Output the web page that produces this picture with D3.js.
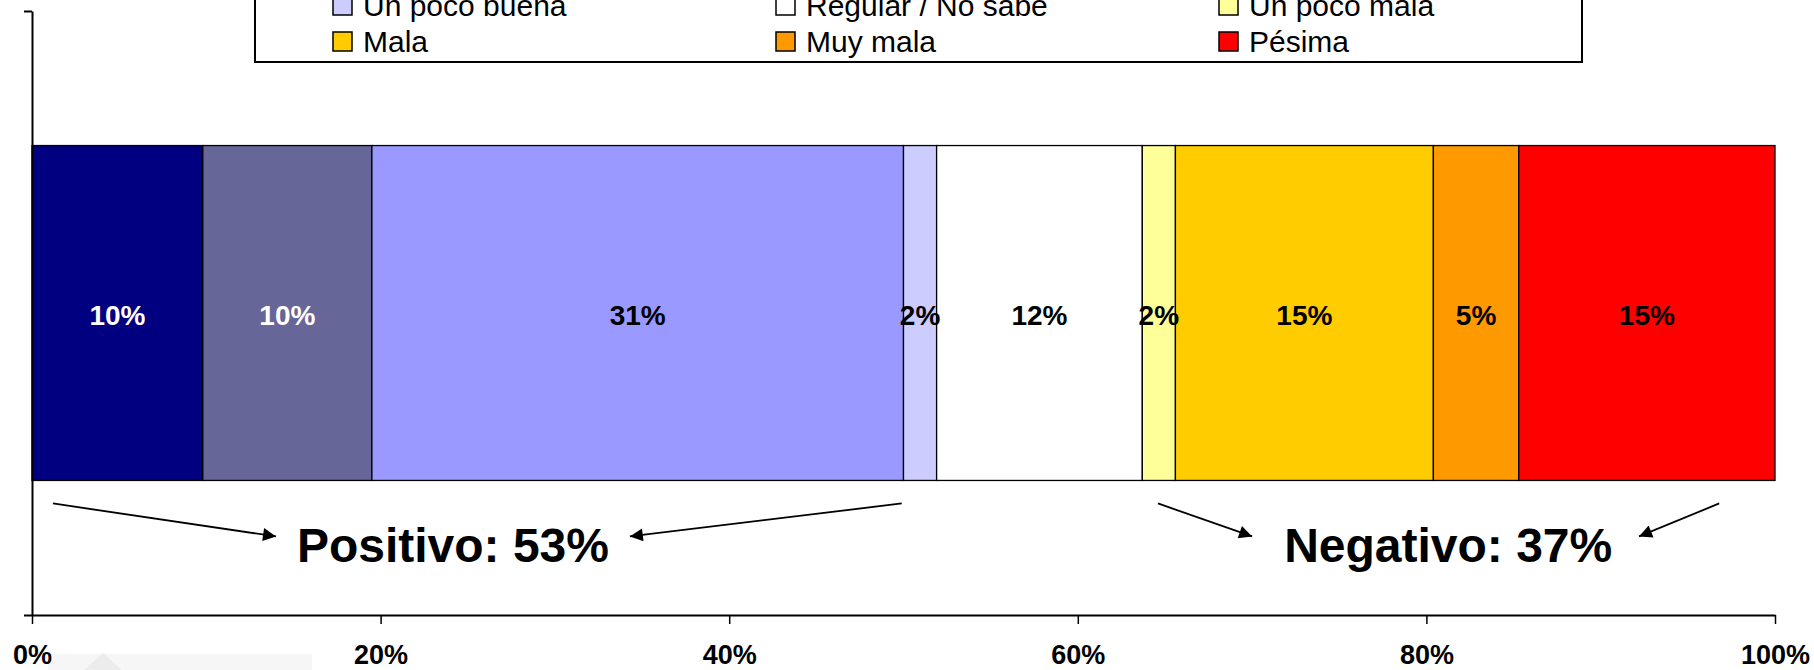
<!DOCTYPE html>
<html>
<head>
<meta charset="utf-8">
<script src="https://cdn.jsdelivr.net/npm/d3@7"></script>
<style>
  body { margin: 0; background: #fff; }
  svg { display: block; font-family: "Liberation Sans", Arial, sans-serif; }
</style>
</head>
<body>
<div id="chart"></div>
<script>
var width = 1814
var height = 670

// categories in stacking order (legend reads row by row)
var categories = ["Excelente", "Muy buena", "Buena", "Un poco buena", "Regular / No sabe",
                  "Un poco mala", "Mala", "Muy mala", "Pésima"]
var values = [9.8, 9.7, 30.5, 1.9, 11.8, 1.9, 14.8, 4.9, 14.7]
var colors = ["#000080", "#666699", "#9999FF", "#CCCCFF", "#FFFFFF",
              "#FFFF99", "#FFCC00", "#FF9900", "#FF0000"]
var labelColors = ["#fff", "#fff", "#000", "#000", "#000", "#000", "#000", "#000", "#000"]
var xTicks = [0, 20, 40, 60, 80, 100]

// summary groups: indexes of categories, label position (% of axis), arrows (% of axis)
var groups = [
  { name: "Positivo", idx: [0, 1, 2, 3], at: 24.15, arrows: [[1.2, 14.0], [49.9, 34.3]] },
  { name: "Negativo", idx: [5, 6, 7, 8], at: 81.25, arrows: [[64.6, 70.0], [96.8, 92.2]] }
]

var margin = { left: 32, right: 39, top: 11, bottom: 55 }

var svg = d3.select("#chart")
    .append("svg")
    .attr("width", width)
    .attr("height", height)

var x = d3.scaleLinear()
    .domain([0, 100])
    .range([margin.left, width - margin.right])

var y = d3.scaleBand()
    .domain(["Total"])
    .range([margin.top, height - margin.bottom])
    .paddingInner(0.2866)
    .paddingOuter(0.2866)

var yLin = d3.scaleLinear()
    .domain([0, 1])
    .range([height - margin.bottom, margin.top])

// faint watermark behind the axis labels
svg.append("rect")
    .attr("x", 48).attr("y", 654).attr("width", 264).attr("height", 20)
    .attr("fill", "#f6f6f6")
svg.append("path")
    .attr("d", "M80,674 L103,653 L126,674 Z")
    .attr("fill", "#ececec")

// stacked segments
var starts = d3.cumsum([0].concat(values))
var segs = values.map((v, i) => ({ v: v, x0: starts[i], x1: starts[i + 1], i: i }))

svg.selectAll("rect.seg")
    .data(segs)
    .enter()
    .append("rect")
    .attr("class", "seg")
    .attr("x", d => x(d.x0))
    .attr("y", y("Total"))
    .attr("width", d => x(d.x1) - x(d.x0))
    .attr("height", y.bandwidth())
    .attr("fill", d => colors[d.i])
    .attr("stroke", "#000")
    .attr("stroke-width", 1.3)

svg.selectAll("text.val")
    .data(segs)
    .enter()
    .append("text")
    .attr("class", "val")
    .attr("x", d => x((d.x0 + d.x1) / 2))
    .attr("y", y("Total") + y.bandwidth() / 2 + 12)
    .attr("text-anchor", "middle")
    .attr("font-size", 28)
    .attr("font-weight", "bold")
    .attr("fill", d => labelColors[d.i])
    .text(d => Math.round(d.v) + "%")

// axes
var xAxis = svg.append("g")
    .attr("transform", `translate(0,${height - margin.bottom})`)
    .call(d3.axisBottom(x)
        .tickValues(xTicks)
        .tickFormat(d => d + "%")
        .tickSize(9)
        .tickSizeOuter(0)
        .tickPadding(21))
xAxis.select(".domain").attr("stroke", "#000").attr("stroke-width", 2)
xAxis.selectAll(".tick line").attr("stroke", "#000").attr("stroke-width", 1.5)
xAxis.selectAll("text")
    .attr("font-size", 27)
    .attr("font-weight", "bold")
    .attr("font-family", "Liberation Sans, Arial, sans-serif")
    .attr("fill", "#000")

var yAxis = svg.append("g")
    .attr("transform", `translate(${margin.left},0)`)
    .call(d3.axisLeft(yLin)
        .tickValues([0, 1])
        .tickFormat("")
        .tickSize(8)
        .tickSizeOuter(0))
yAxis.select(".domain").attr("stroke", "#000").attr("stroke-width", 2)
yAxis.selectAll(".tick line").attr("stroke", "#000").attr("stroke-width", 2)

// summary labels with arrows
svg.append("defs").append("marker")
    .attr("id", "head")
    .attr("viewBox", "0 0 10 10")
    .attr("refX", 10).attr("refY", 5)
    .attr("markerWidth", 18).attr("markerHeight", 13)
    .attr("markerUnits", "userSpaceOnUse")
    .attr("orient", "auto")
    .append("path")
    .attr("d", "M0,0 L10,5 L0,10 Z")
    .attr("fill", "#000")

var barBottom = y("Total") + y.bandwidth()

groups.forEach(g => {
    var total = d3.sum(g.idx, i => Math.round(values[i]))
    svg.append("text")
        .attr("x", x(g.at))
        .attr("y", barBottom + 82)
        .attr("text-anchor", "middle")
        .attr("font-size", 48)
        .attr("font-weight", "bold")
        .text(`${g.name}: ${total}%`)

    svg.selectAll(null)
        .data(g.arrows)
        .enter()
        .append("line")
        .attr("x1", d => x(d[0]))
        .attr("y1", barBottom + 23)
        .attr("x2", d => x(d[1]))
        .attr("y2", barBottom + 56)
        .attr("stroke", "#000")
        .attr("stroke-width", 1.8)
        .attr("marker-end", "url(#head)")
})

// legend (top row sits above the visible area)
var legend = svg.append("g")
legend.append("rect")
    .attr("x", 255).attr("y", -70)
    .attr("width", 1327).attr("height", 132)
    .attr("fill", "#fff")
    .attr("stroke", "#000")
    .attr("stroke-width", 2)

var items = legend.selectAll("g.item")
    .data(categories)
    .enter()
    .append("g")
    .attr("class", "item")
    .attr("transform", (d, i) => `translate(${333 + (i % 3) * 443},${-40 + Math.floor(i / 3) * 36})`)

items.append("rect")
    .attr("width", 19).attr("height", 19)
    .attr("fill", (d, i) => colors[i])
    .attr("stroke", "#000")
    .attr("stroke-width", 1.5)

items.append("text")
    .attr("x", 30)
    .attr("y", 20)
    .attr("font-size", 30)
    .attr("fill", "#000")
    .text(d => d)
</script>
</body>
</html>
